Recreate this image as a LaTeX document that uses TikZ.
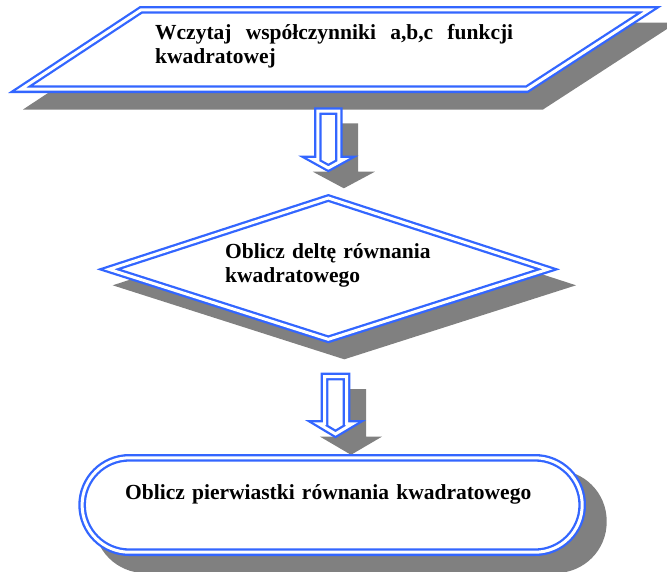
\documentclass[tikz,border=0pt]{standalone}
\usepackage{fontspec}
\setmainfont{Liberation Serif}
\definecolor{wblue}{HTML}{3366FF}
\definecolor{shade}{HTML}{808080}
\begin{document}
\begin{tikzpicture}[x=1pt,y=-1pt,
  shadowfill/.style={fill=shade,draw=none},
  dblshape/.style={draw=wblue,fill=white,line width=2.3pt,double=white,double distance=3pt,line join=miter,miter limit=30},
  txt/.style={anchor=base west,inner sep=0pt,align=left,text width=480pt,font=\bfseries\fontsize{21.5}{24}\selectfont}]
\useasboundingbox (0,0) rectangle (667,571);
\clip (0,0) rectangle (667,571);
% shadows
\path[shadowfill] (155,22.5) -- (677,22.5) -- (543,109.5) -- (23,109.5) -- cycle;
\path[shadowfill] (329.5,123.3) -- (358.2,123.3) -- (358.2,171.7) -- (374.9,171.7) -- (343.85,188.3) -- (312.8,171.7) -- (329.5,171.7) -- cycle;
\path[shadowfill] (112.7,285.3) -- (344.3,210) -- (576,285.3) -- (344.3,359.3) -- cycle;
\path[shadowfill] (336.2,389.2) -- (366.2,389.2) -- (366.2,436.5) -- (382.2,436.5) -- (351,454.8) -- (319.8,436.5) -- (336.2,436.5) -- cycle;
\path[shadowfill,rounded corners=51pt] (94,470) rectangle (606.7,573);
% shapes
\path[dblshape] (141.1,9.8) -- (649.2,9.8) -- (526.9,89.2) -- (20.7,89.2) -- cycle;
\path[dblshape] (317.8,111.1) -- (338.9,111.1) -- (338.9,159.5) -- (343.7,159.5) -- (328.35,168) -- (313,159.5) -- (317.8,159.5) -- cycle;
\path[dblshape] (109,269.3) -- (328.3,198) -- (547.7,269.3) -- (328.3,339.3) -- cycle;
\path[dblshape] (324.5,376.5) -- (346.5,376.5) -- (346.5,423.8) -- (352.4,423.8) -- (335.5,433.9) -- (318.6,423.8) -- (324.5,423.8) -- cycle;
\path[dblshape,rounded corners=47.2pt] (82.1,457.8) rectangle (582.2,552.2);
% texts
\node[txt] (t1) at (155,39.5) {\hbox to 358pt{Wczytaj\hfill współczynniki\hfill a,b,c\hfill funkcji}\\kwadratowej};
\node[txt] (t2) at (225,258.3) {Oblicz deltę równania\\kwadratowego};
\node[txt] (t3) at (125,499.3) {Oblicz pierwiastki równania kwadratowego};
\end{tikzpicture}
\end{document}
